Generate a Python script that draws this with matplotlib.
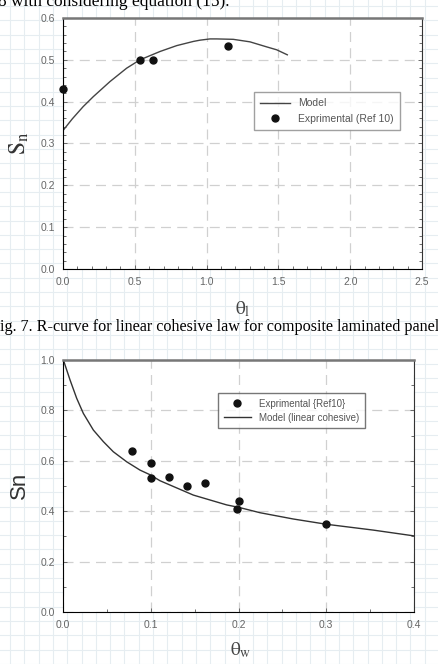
import numpy as np
import matplotlib.pyplot as plt
from matplotlib.ticker import MultipleLocator

plt.rcParams['mathtext.fontset'] = 'stix'

# top panel (S_n vs theta_l)
model1_x = [0.0, 0.065, 0.14, 0.211, 0.327, 0.443, 0.536, 0.676, 0.792, 0.908,
            0.954, 1.024, 1.07, 1.186, 1.302, 1.418, 1.488, 1.562]
model1_y = [0.331, 0.359, 0.388, 0.412, 0.448, 0.480, 0.500, 0.520, 0.534, 0.544,
            0.547, 0.550, 0.550, 0.549, 0.543, 0.531, 0.524, 0.512]
exp1_x = [0.0, 0.535, 0.63, 1.148]
exp1_y = [0.43, 0.50, 0.50, 0.533]

# bottom panel (Sn vs theta_w)
model2_x = [0.0, 0.0011, 0.008, 0.0156, 0.0232, 0.0346, 0.046, 0.0573, 0.0726,
            0.0878, 0.099, 0.1105, 0.1485, 0.1865, 0.2006, 0.2245, 0.2625,
            0.3005, 0.3536, 0.4]
model2_y = [1.0, 0.993, 0.921, 0.848, 0.788, 0.722, 0.676, 0.636, 0.596,
            0.563, 0.545, 0.521, 0.464, 0.425, 0.415, 0.394, 0.369,
            0.348, 0.325, 0.302]
exp2_x = [0.0784, 0.1, 0.1, 0.121, 0.141, 0.162, 0.2, 0.198, 0.3]
exp2_y = [0.64, 0.59, 0.532, 0.534, 0.499, 0.51, 0.44, 0.409, 0.348]

W, H = 438, 664
fig = plt.figure(figsize=(W / 100, H / 100), dpi=100)

# faint graph-paper background
bg = fig.add_axes([0, 0, 1, 1], zorder=-5)
bg.set_xlim(0, W)
bg.set_ylim(H, 0)
for gx in np.arange(10, W, 14.3):
    bg.axvline(gx, color='#e6edf1', lw=0.8)
for gy in np.arange(6, H, 14.3):
    bg.axhline(gy, color='#e6edf1', lw=0.8)
bg.axis('off')


def make_axes(l, t, r, b):
    return fig.add_axes([l / W, 1 - b / H, (r - l) / W, (b - t) / H])


def style(ax):
    ax.set_facecolor('white')
    ax.grid(True, which='major', ls=(0, (8, 5)), color='#d0d0d0', lw=0.9)
    ax.set_axisbelow(True)
    ax.spines['top'].set_color('#777777')
    ax.spines['top'].set_linewidth(1.8)
    ax.spines['right'].set_color('#333333')
    ax.spines['left'].set_color('black')
    ax.spines['bottom'].set_color('black')
    for s in ax.spines.values():
        s.set_zorder(3)
    ax.tick_params(which='both', direction='in', right=True, labelsize=7.5,
                   labelcolor='#666666', color='#555555', width=0.6)
    ax.tick_params(which='major', length=3, pad=6)
    ax.tick_params(which='minor', length=2)
    for lab in ax.get_xticklabels() + ax.get_yticklabels():
        lab.set_fontfamily('Liberation Sans')


# ---- top ----
ax1 = make_axes(63, 18, 422, 269)
ax1.plot(model1_x, model1_y, color='#444444', lw=1.0, label='Model')
ax1.plot(exp1_x, exp1_y, 'o', color='#111111', ms=5, label='Exprimental (Ref 10)',
         clip_on=False, zorder=4)
ax1.set_xlim(0, 2.5)
ax1.set_ylim(0, 0.6)
ax1.xaxis.set_major_locator(MultipleLocator(0.5))
ax1.xaxis.set_minor_locator(MultipleLocator(0.1))
ax1.yaxis.set_major_locator(MultipleLocator(0.1))
ax1.yaxis.set_minor_locator(MultipleLocator(0.02))
ax1.xaxis.set_major_formatter(plt.FormatStrFormatter('%.1f'))
style(ax1)
leg1 = ax1.legend(loc='upper left', bbox_to_anchor=((249 - 63) / 359, 1 - (87 - 18) / 251),
                  frameon=True, fancybox=False, edgecolor='#888888',
                  handlelength=2.8, borderpad=0.6, labelspacing=0.5,
                  prop={'family': 'Liberation Sans', 'size': 7.5})
for t in leg1.get_texts():
    t.set_color('#555555')
fig.text(19 / W, 1 - 143 / H, r'$\mathrm{S}_{\mathrm{n}}$', rotation=90, fontsize=17,
         ha='center', va='center', color='#333333')
fig.text(243 / W, 1 - 309 / H, r'$\mathrm{θ}_{\mathrm{l}}$', fontsize=14,
         ha='center', va='center', color='#444444')

# ---- bottom ----
ax2 = make_axes(63, 360, 414, 612)
ax2.plot(exp2_x, exp2_y, 'o', color='#111111', ms=5, label='Exprimental {Ref10}',
         zorder=4)
ax2.plot(model2_x, model2_y, color='#333333', lw=1.0, label='Model (linear cohesive)')
ax2.set_xlim(0, 0.4)
ax2.set_ylim(0, 1.0)
ax2.xaxis.set_major_locator(MultipleLocator(0.1))
ax2.xaxis.set_minor_locator(MultipleLocator(0.05))
ax2.yaxis.set_major_locator(MultipleLocator(0.2))
ax2.yaxis.set_minor_locator(MultipleLocator(0.1))
style(ax2)
leg2 = ax2.legend(loc='upper left', bbox_to_anchor=((213 - 63) / 351, 1 - (388 - 360) / 252),
                  frameon=True, fancybox=False, edgecolor='#555555',
                  handlelength=2.8, borderpad=0.6, labelspacing=0.4,
                  prop={'family': 'Liberation Sans', 'size': 7})
for t in leg2.get_texts():
    t.set_color('#555555')
fig.text(19 / W, 1 - 485 / H, 'Sn', rotation=90, fontsize=16, family='Liberation Sans',
         ha='center', va='center', color='#333333')
fig.text(241 / W, 1 - 650 / H, r'$\mathrm{θ}_{\mathrm{w}}$', fontsize=14,
         ha='center', va='center', color='#444444')

# captions from the page
fig.text(-2 / W, 1 - 2 / H, '8 with considering equation (15).', fontsize=12.5,
         family='Liberation Serif', ha='left', va='center', color='black')
fig.text(-9 / W, 1 - 327 / H,
         'Fig. 7. R-curve for linear cohesive law for composite laminated panel',
         fontsize=11.6, family='Liberation Serif', ha='left', va='center', color='black')

fig.savefig('out.png', dpi=100)
